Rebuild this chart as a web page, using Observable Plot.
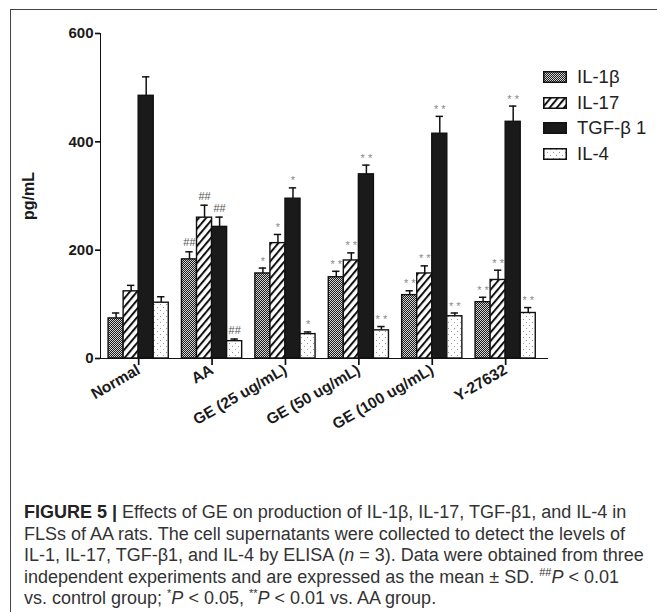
<!DOCTYPE html>
<html>
<head>
<meta charset="utf-8">
<script src="https://cdn.jsdelivr.net/npm/d3@7"></script>
<script src="https://cdn.jsdelivr.net/npm/@observablehq/plot@0.6"></script>
<style>
  html, body { margin: 0; padding: 0; background: #fff; }
  body { width: 657px; height: 612px; position: relative; overflow: hidden; font-family: "Liberation Sans", Arial, sans-serif; }
  #frame { position: absolute; left: 10px; top: 9px; width: 720px; height: 720px; border: 1px solid #444; box-sizing: border-box; }
  #chart { position: absolute; left: 0; top: 0; }
  #chart g[aria-label*="axis"] path, #chart g[aria-label*="axis"] line { stroke: #111; stroke-width: 1.7px; }
  #chart g[aria-label*="y-axis"] text { font-size: 15px; font-weight: bold; fill: #1a1a1a; }
  #chart g[aria-label*="x-axis"] text { font-size: 15.5px; font-weight: bold; fill: #1a1a1a; }
  #ylabel { position: absolute; left: 29px; top: 196px; transform: translate(-50%, -50%) rotate(-90deg); font-size: 16px; font-weight: bold; color: #1a1a1a; white-space: nowrap; }
  #legend { position: absolute; left: 543px; top: 64px; font-size: 18.5px; color: #222; }
  #legend .row { display: flex; align-items: center; height: 25.7px; }
  #legend svg { margin-right: 10px; }
  #caption { position: absolute; left: 24px; top: 502px; font-size: 18px; line-height: 21.5px; color: #333; white-space: nowrap; }
  #caption b { color: #222; }
  #caption sup { font-size: 11px; line-height: 0; }
</style>
</head>
<body>
<svg width="0" height="0" style="position:absolute">
  <defs>
    <pattern id="pat-il1b" patternUnits="userSpaceOnUse" width="2" height="2">
      <rect width="2" height="2" fill="#1c1c1c"/>
      <rect x="0" y="0" width="1" height="1" fill="#d4d4d4"/>
      <rect x="1" y="1" width="1" height="1" fill="#d4d4d4"/>
    </pattern>
    <pattern id="pat-il17" patternUnits="userSpaceOnUse" width="5.5" height="6" patternTransform="rotate(40)">
      <rect width="5.5" height="6" fill="#fff"/>
      <rect x="0" y="0" width="2" height="6" fill="#111"/>
    </pattern>
    <pattern id="pat-tgf" patternUnits="userSpaceOnUse" width="4" height="4">
      <rect width="4" height="4" fill="#1a1a1a"/>
    </pattern>
    <pattern id="pat-il4" patternUnits="userSpaceOnUse" width="6" height="6">
      <rect width="6" height="6" fill="#fff"/>
      <rect x="1" y="1" width="1" height="1" fill="#999"/>
      <rect x="4" y="4" width="1" height="1" fill="#999"/>
    </pattern>
  </defs>
</svg>
<div id="frame"></div>
<div id="chart"></div>
<div id="ylabel">pg/mL</div>
<div id="legend"></div>
<div id="caption">
<b>FIGURE 5 |</b> Effects of GE on production of IL-1β, IL-17, TGF-β1, and IL-4 in<br>
FLSs of AA rats. The cell supernatants were collected to detect the levels of<br>
IL-1, IL-17, TGF-β1, and IL-4 by ELISA (<i>n</i> = 3). Data were obtained from three<br>
independent experiments and are expressed as the mean ± SD. <sup>##</sup><i>P</i> &lt; 0.01<br>
vs. control group; <sup>*</sup><i>P</i> &lt; 0.05, <sup>**</sup><i>P</i> &lt; 0.01 vs. AA group.
</div>
<script>
// ---- data (pg/mL, mean and SD) ----
const groups = ["Normal", "AA", "GE (25 ug/mL)", "GE (50 ug/mL)", "GE (100 ug/mL)", "Y-27632"];
const seriesNames = ["IL-1β", "IL-17", "TGF-β 1", "IL-4"];
const il1b    = [74, 183, 157, 150, 117, 104];
const il1bSD  = [10, 14, 10, 11, 8, 9];
const il17    = [124, 260, 213, 181, 157, 145];
const il17SD  = [11, 23, 16, 14, 14, 18];
const tgfb1   = [485, 243, 295, 340, 415, 437];
const tgfb1SD = [35, 18, 20, 17, 32, 29];
const il4     = [103, 32, 45, 52, 78, 84];
const il4SD   = [11, 4, 4, 7, 6, 10];
const il1bSig  = ["", "##", "*", "**", "**", "**"];
const il17Sig  = ["", "##", "*", "**", "**", "**"];
const tgfb1Sig = ["", "##", "*", "**", "**", "**"];
const il4Sig   = ["", "##", "*", "**", "**", "**"];
const yTicks = [0, 200, 400, 600];

// ---- build table ----
const patterns = ["url(#pat-il1b)", "url(#pat-il17)", "url(#pat-tgf)", "url(#pat-il4)"];
const seriesData = [
  [il1b, il1bSD, il1bSig],
  [il17, il17SD, il17Sig],
  [tgfb1, tgfb1SD, tgfb1Sig],
  [il4, il4SD, il4Sig]
];
const barW = 0.205;
const rows = [];
groups.forEach((g, gi) => {
  seriesData.forEach(([vals, sds, sigs], si) => {
    const x1 = gi + (si - 2) * barW;
    rows.push({
      group: g, series: seriesNames[si], x1, x2: x1 + barW, xc: x1 + barW / 2,
      value: vals[gi], sd: sds[gi], top: vals[gi] + sds[gi], sig: sigs[gi], fill: patterns[si]
    });
  });
});
const capHalf = 0.05;
const sigRows = rows.filter(d => d.sig);

const chart = Plot.plot({
  width: 657,
  height: 450,
  marginLeft: 100,
  marginRight: 110,
  marginTop: 33,
  marginBottom: 92,
  style: { fontFamily: "Liberation Sans, Arial, sans-serif", fontSize: "13px", fontWeight: "bold", color: "#111", background: "transparent" },
  x: {
    type: "linear", domain: [-0.52, 5.57], ticks: groups.length,
    tickFormat: i => groups[i] ?? "", tickRotate: -30, tickSize: 7, tickPadding: 3,
    line: true, label: null
  },
  y: {
    domain: [0, 600], ticks: yTicks.length - 1, tickSize: 5, tickPadding: 2, line: true,
    label: null
  },
  marks: [
    // error bars (upper)
    Plot.ruleX(rows, { x: "xc", y1: "value", y2: "top", stroke: "#111", strokeWidth: 1.5 }),
    Plot.ruleY(rows, { y: "top", x1: d => d.xc - capHalf, x2: d => d.xc + capHalf, stroke: "#111", strokeWidth: 1.5 }),
    // bars
    Plot.rectY(rows, { x1: "x1", x2: "x2", y1: 0, y2: "value", fill: "fill", stroke: "#111", strokeWidth: 1.4 }),
    // significance marks
    Plot.text(sigRows.filter(d => d.sig === "##"), { x: "xc", y: "top", text: "sig", dy: -9, fill: "#555", fontSize: 11, fontWeight: "normal" }),
    Plot.text(sigRows.filter(d => d.sig !== "##"), { x: "xc", y: "top", text: d => d.sig.split("").join(" "), dy: -7, fill: "#888", fontSize: 11, fontWeight: "normal" })
  ]
});
document.getElementById("chart").appendChild(chart);

// ---- legend ----
const legend = document.getElementById("legend");
seriesNames.forEach((name, i) => {
  const row = document.createElement("div");
  row.className = "row";
  row.innerHTML = `<svg width="24" height="12"><rect x="0.75" y="0.75" width="22.5" height="10.5" fill="${patterns[i]}" stroke="#111" stroke-width="1.5"/></svg><span>${name}</span>`;
  legend.appendChild(row);
});
</script>
</body>
</html>
